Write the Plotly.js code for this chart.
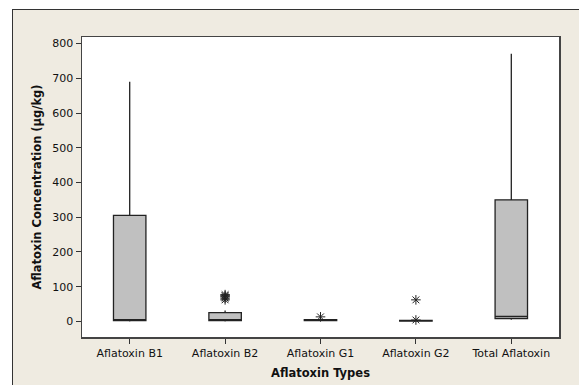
<!DOCTYPE html>
<html>
<head>
<meta charset="utf-8">
<script src="https://cdn.plot.ly/plotly-3.0.1.min.js"></script>
<style>
  html, body { margin: 0; padding: 0; background: #ffffff; width: 579px; height: 385px; overflow: hidden; }
  #frame { position: absolute; left: 12px; top: 9px; width: 567px; height: 376px;
           border-left: 1px solid #333; border-top: 1px solid #333; background: #efebe1; }
  #chart { position: absolute; left: 0; top: 0; width: 567px; height: 376px; }
</style>
</head>
<body>
<div id="frame"><div id="chart"></div></div>
<script>
const categories = ["Aflatoxin B1", "Aflatoxin B2", "Aflatoxin G1", "Aflatoxin G2", "Total Aflatoxin"];
const lowerWhisker = [0, 0, 1, 0, 5];
const q1 = [2, 2, 2, 0.5, 8];
const median = [4, 5, 4, 1.5, 14];
const q3 = [305, 25, 5, 3, 350];
const upperWhisker = [690, 31, 6, 3.5, 771];
const outlierX = ["Aflatoxin B2", "Aflatoxin B2", "Aflatoxin B2", "Aflatoxin B2", "Aflatoxin B2",
                  "Aflatoxin G1", "Aflatoxin G2", "Aflatoxin G2"];
const outlierY = [62, 67, 71, 74, 77, 13, 4, 62];

const boxTrace = {
  type: "box",
  x: categories,
  q1: q1,
  median: median,
  q3: q3,
  lowerfence: lowerWhisker,
  upperfence: upperWhisker,
  fillcolor: "#c0c0c0",
  line: { color: "#222222", width: 1.3 },
  whiskerwidth: 0,
  width: 0.34,
  boxpoints: false,
  hoverinfo: "skip",
  showlegend: false
};

const outlierTrace = {
  type: "scatter",
  mode: "markers",
  x: outlierX,
  y: outlierY,
  marker: { symbol: "asterisk-open", size: 8, color: "#222222", line: { color: "#222222", width: 1 } },
  showlegend: false,
  hoverinfo: "skip"
};

const layout = {
  width: 567,
  height: 376,
  margin: { l: 69, r: 21, t: 27, b: 49 },
  paper_bgcolor: "#efebe1",
  plot_bgcolor: "#ffffff",
  font: { family: "DejaVu Sans, sans-serif", size: 11, color: "#111111" },
  showlegend: false,
  xaxis: {
    type: "category",
    categoryorder: "array",
    categoryarray: categories,
    range: [-0.5, 4.5],
    showline: true, mirror: true, linecolor: "#444444", linewidth: 1.5,
    ticks: "outside", ticklen: 5, tickcolor: "#333333",
    showgrid: false, zeroline: false,
    tickfont: { family: "DejaVu Sans, sans-serif", size: 11 },
    title: { text: "<b>Aflatoxin Types</b>", font: { size: 11.5, family: "DejaVu Sans, sans-serif" }, standoff: 10 }
  },
  yaxis: {
    range: [-45, 819],
    tickvals: [0, 100, 200, 300, 400, 500, 600, 700, 800],
    showline: true, mirror: true, linecolor: "#444444", linewidth: 1.5,
    ticks: "outside", ticklen: 5, tickcolor: "#333333",
    showgrid: false, zeroline: false,
    tickfont: { family: "DejaVu Sans, sans-serif", size: 11 },
    title: { text: "<b>Aflatoxin Concentration (µg/kg)</b>", font: { size: 11.5, family: "DejaVu Sans, sans-serif" }, standoff: 8 }
  }
};

Plotly.newPlot("chart", [boxTrace, outlierTrace], layout, { displayModeBar: false, staticPlot: true });
</script>
</body>
</html>
